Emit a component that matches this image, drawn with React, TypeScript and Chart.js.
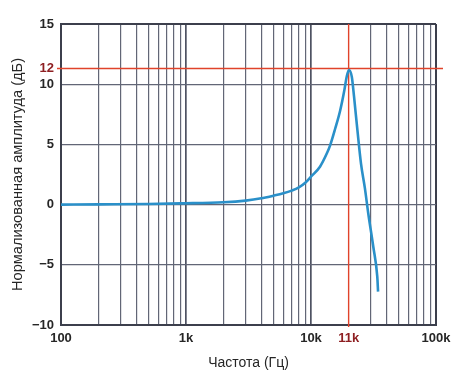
import React, { useEffect, useRef } from "react";
import { Chart, registerables } from "chart.js";

Chart.register(...registerables);

// Frequency (Hz) and normalized amplitude (dB)
const freqHz = [100, 200, 500, 900, 2000, 3000, 4000, 5000, 6000, 7000, 8000, 9000, 10000, 11800, 13400, 14200, 15600, 17100, 18500, 19300, 20100, 21200, 22100, 23500, 25100, 27000, 28700, 31500, 33900, 34400];
const gainDb = [0, 0.02, 0.05, 0.1, 0.19, 0.33, 0.52, 0.74, 0.94, 1.16, 1.43, 1.82, 2.32, 3.15, 4.26, 4.9, 6.3, 7.8, 9.52, 10.62, 11.18, 10.62, 8.96, 6.2, 3.43, 1.35, -0.72, -3.5, -5.99, -7.23];

// Axis ticks
const xTickValues = [100, 200, 300, 400, 500, 600, 700, 800, 900, 1000, 2000, 3000, 4000, 5000, 6000, 7000, 8000, 9000, 10000, 20000, 30000, 40000, 50000, 60000, 70000, 80000, 90000, 100000];
const xTickLabels: Record<number, string> = { 100: "100", 1000: "1k", 10000: "10k", 20000: "11k", 100000: "100k" };
const yTickValues = [-10, -5, 0, 5, 10, 11.3, 15];
const yTickLabels: Record<number, string> = { [-10]: "\u221210", [-5]: "\u22125", 0: "0", 5: "5", 10: "10", 11.3: "12", 15: "15" };

// Marker lines (position on axes) with their labels
const markerX = 20000;
const markerY = 11.3;

const xTitle = "Частота (Гц)";
const yTitle = "Нормализованная амплитуда (дБ)";

const RED = "#e0432b";
const DARKRED = "#8e1f22";
const GRID = "#626676";
const DECADE = "#4e5262";
const FRAME = "#3c3f4c";
const TEXT = "#262626";

export default function App() {
  const ref = useRef<HTMLCanvasElement | null>(null);

  useEffect(() => {
    if (!ref.current) return;
    const decades = new Set([1000, 10000]);
    const edges = new Set([100, 100000]);

    const markerPlugin = {
      id: "markers",
      beforeDatasetsDraw(chart: any) {
        const { ctx, chartArea, scales } = chart;
        const px = scales.x.getPixelForValue(markerX);
        const py = scales.y.getPixelForValue(markerY);
        ctx.save();
        ctx.strokeStyle = RED;
        ctx.lineWidth = 1.4;
        ctx.beginPath();
        ctx.moveTo(px, chartArea.top);
        ctx.lineTo(px, chartArea.bottom + 2);
        ctx.moveTo(chartArea.left - 4, py);
        ctx.lineTo(chartArea.right + 7, py);
        ctx.stroke();
        ctx.restore();
      },
      afterDraw(chart: any) {
        const { ctx, chartArea } = chart;
        ctx.save();
        ctx.fillStyle = TEXT;
        ctx.textAlign = "center";
        ctx.textBaseline = "middle";
        ctx.font = "14px 'Liberation Sans', Arial, sans-serif";
        ctx.fillText(xTitle, (chartArea.left + chartArea.right) / 2, 363);
        ctx.font = "14.6px 'Liberation Sans', Arial, sans-serif";
        ctx.translate(18, (chartArea.top + chartArea.bottom) / 2);
        ctx.rotate(-Math.PI / 2);
        ctx.fillText(yTitle, 0, 0);
        ctx.restore();
      },
    };

    const chart = new Chart(ref.current, {
      type: "line",
      data: {
        datasets: [
          {
            data: freqHz.map((f, i) => ({ x: f, y: gainDb[i] })),
            borderColor: "#2a90c9",
            borderWidth: 2.6,
            pointRadius: 0,
            cubicInterpolationMode: "monotone",
            fill: false,
          },
        ],
      },
      options: {
        animation: false,
        responsive: false,
        layout: { padding: { top: 24, right: 31, left: 0, bottom: 0 } },
        plugins: { legend: { display: false }, tooltip: { enabled: false }, title: { display: false } },
        scales: {
          x: {
            type: "logarithmic",
            min: 100,
            max: 100000,
            afterFit: (s: any) => {
              s.height = 60;
            },
            afterBuildTicks: (s: any) => {
              s.ticks = xTickValues.map((v) => ({ value: v }));
            },
            ticks: {
              autoSkip: false,
              maxRotation: 0,
              padding: 6,
              font: { family: "'Liberation Sans', Arial, sans-serif", size: 13, weight: "bold" },
              color: (c: any) => (c.tick && c.tick.value === markerX ? DARKRED : TEXT),
              callback: (v: any) => xTickLabels[v as number] ?? "",
            },
            grid: {
              drawTicks: false,
              color: (c: any) => {
                const v = c.tick ? c.tick.value : 0;
                if (v === markerX) return "rgba(0,0,0,0)";
                if (edges.has(v)) return FRAME;
                return decades.has(v) ? DECADE : GRID;
              },
              lineWidth: (c: any) => {
                const v = c.tick ? c.tick.value : 0;
                if (edges.has(v)) return 2;
                return decades.has(v) ? 1.7 : 1.2;
              },
            },
            border: { display: true, color: FRAME, width: 2 },
          },
          y: {
            type: "linear",
            min: -10,
            max: 15,
            afterFit: (s: any) => {
              s.width = 61;
            },
            afterBuildTicks: (s: any) => {
              s.ticks = yTickValues.map((v) => ({ value: v }));
            },
            ticks: {
              autoSkip: false,
              padding: 7,
              font: { family: "'Liberation Sans', Arial, sans-serif", size: 13, weight: "bold" },
              color: (c: any) => (c.tick && c.tick.value === markerY ? DARKRED : TEXT),
              callback: (v: any) => yTickLabels[v as number] ?? "",
            },
            grid: {
              drawTicks: false,
              color: (c: any) => {
                const v = c.tick ? c.tick.value : 0;
                if (v === markerY) return "rgba(0,0,0,0)";
                return v === 15 || v === -10 ? FRAME : GRID;
              },
              lineWidth: (c: any) => (c.tick && (c.tick.value === 15 || c.tick.value === -10) ? 2 : 1.2),
            },
            border: { display: true, color: FRAME, width: 2 },
          },
        },
      },
      plugins: [markerPlugin],
    } as any);

    return () => chart.destroy();
  }, []);

  return (
    <div style={{ position: "absolute", left: 0, top: 0, width: 467, height: 385, background: "#fff" }}>
      <canvas ref={ref} width={467} height={385} style={{ display: "block", width: 467, height: 385 }} />
    </div>
  );
}
